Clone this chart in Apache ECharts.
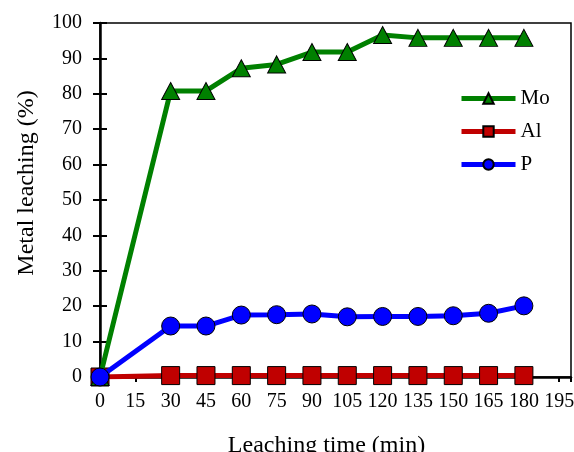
<!DOCTYPE html>
<html>
<head>
<meta charset="utf-8">
<script src="https://cdn.jsdelivr.net/npm/echarts@6/dist/echarts.min.js"></script>
<style>html,body{margin:0;padding:0;background:#fff;}#c{width:574px;height:452px;}</style>
</head>
<body>
<div id="c"></div>
<script>
const times = [0, 30, 45, 60, 75, 90, 105, 120, 135, 150, 165, 180];
const moValues = [0, 80.8, 80.8, 87.2, 88.3, 91.8, 91.8, 96.6, 95.8, 95.8, 95.8, 95.8];
const alValues = [0, 0.4, 0.4, 0.4, 0.4, 0.4, 0.4, 0.4, 0.4, 0.4, 0.4, 0.4];
const pValues = [0, 14.4, 14.4, 17.5, 17.6, 17.8, 17.0, 17.1, 17.1, 17.3, 18.0, 20.1];
const seriesNames = ['Mo', 'Al', 'P'];
const xTitle = 'Leaching time (min)';
const yTitle = 'Metal leaching (%)';

const font = 'Liberation Serif, Times New Roman, serif';
const pair = (xs, ys) => xs.map((x, i) => [x, ys[i]]);

const chart = echarts.init(document.getElementById('c'), null, {renderer: 'canvas'});
const baseX = {type: 'value', min: 0, max: 200, interval: 15, gridIndex: 0, splitLine: {show: false}};
const baseY = {type: 'value', min: 0, max: 100, interval: 10, gridIndex: 0, splitLine: {show: false}};
chart.setOption({
  animation: false,
  grid: {left: 100, top: 23, right: 3, bottom: 75, show: true, borderColor: '#000', borderWidth: 1.5,
    containLabel: false, outerBoundsMode: 'none'},
  xAxis: [
    Object.assign({}, baseX, {
      name: xTitle, nameLocation: 'middle', nameGap: 57,
      nameTextStyle: {fontFamily: font, fontSize: 24, color: '#000', padding: [0, 18, 0, 0]},
      axisLine: {lineStyle: {color: '#000', width: 2.5}},
      axisTick: {inside: false, length: 5, lineStyle: {color: '#000', width: 2}},
      axisLabel: {fontFamily: font, fontSize: 20, color: '#000', margin: 15, showMaxLabel: false,
        formatter: v => (v % 15 === 0 ? String(v) : '')}
    }),
    Object.assign({}, baseX, {
      axisLine: {show: false},
      axisTick: {inside: true, length: 5, lineStyle: {color: '#000', width: 2}},
      axisLabel: {show: false}
    })
  ],
  yAxis: [
    Object.assign({}, baseY, {
      name: yTitle, nameLocation: 'middle', nameGap: 61,
      nameTextStyle: {fontFamily: font, fontSize: 24, color: '#000', padding: [0, 0, 0, 34]},
      axisLine: {lineStyle: {color: '#000', width: 2.5}},
      axisTick: {inside: false, length: 7, lineStyle: {color: '#000', width: 2}},
      axisLabel: {fontFamily: font, fontSize: 20, color: '#000', margin: 18}
    }),
    Object.assign({}, baseY, {
      position: 'left',
      axisLine: {show: false},
      axisTick: {inside: true, length: 7, lineStyle: {color: '#000', width: 2}},
      axisLabel: {show: false}
    })
  ],
  legend: {
    orient: 'vertical', left: 459, top: 88, padding: 0,
    itemWidth: 54, itemHeight: 13, itemGap: 12,
    lineStyle: {width: 5},
    textStyle: {fontFamily: font, fontSize: 21, color: '#000'},
    data: seriesNames
  },
  series: [
    {name: seriesNames[0], type: 'line', data: pair(times, moValues), symbol: 'triangle', symbolSize: [18, 17],
     lineStyle: {color: '#008000', width: 5}, itemStyle: {color: '#008000', borderColor: '#000', borderWidth: 1}, z: 3},
    {name: seriesNames[1], type: 'line', data: pair(times, alValues), symbol: 'rect', symbolSize: 18,
     lineStyle: {color: '#C00000', width: 5}, itemStyle: {color: '#C00000', borderColor: '#000', borderWidth: 1}, z: 2},
    {name: seriesNames[2], type: 'line', data: pair(times, pValues), symbol: 'circle', symbolSize: 18,
     lineStyle: {color: '#0000FF', width: 5}, itemStyle: {color: '#0000FF', borderColor: '#000', borderWidth: 1}, z: 4}
  ]
});
</script>
</body>
</html>
